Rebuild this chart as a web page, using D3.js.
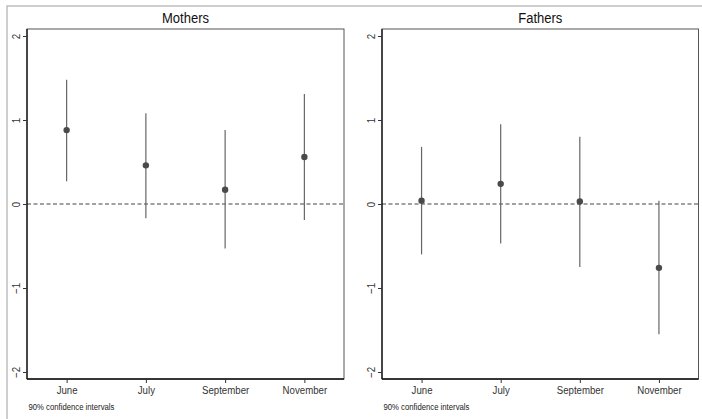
<!DOCTYPE html>
<html>
<head>
<meta charset="utf-8">
<script src="https://cdn.jsdelivr.net/npm/d3@7"></script>
<style>
  html, body { margin: 0; padding: 0; background: #fff; }
  svg text { font-family: "Liberation Sans", Arial, sans-serif; fill: #222; }
</style>
</head>
<body>
<svg id="chart" width="702" height="419"></svg>
<script>
const months = ["June", "July", "September", "November"];
const yTicks = [-2, -1, 0, 1, 2];
const footnote = "90% confidence intervals";

const panelTitles = ["Mothers", "Fathers"];
const mothersEst = [0.88, 0.46, 0.17, 0.56];
const mothersLow = [0.27, -0.17, -0.53, -0.19];
const mothersHigh = [1.48, 1.08, 0.88, 1.31];
const fathersEst = [0.04, 0.24, 0.03, -0.76];
const fathersLow = [-0.60, -0.47, -0.75, -1.55];
const fathersHigh = [0.68, 0.95, 0.80, 0.04];

const panels = [
  { title: panelTitles[0], est: mothersEst, low: mothersLow, high: mothersHigh, x0: 27, x1: 344 },
  { title: panelTitles[1], est: fathersEst, low: fathersLow, high: fathersHigh, x0: 382, x1: 698.5 }
];

const svg = d3.select("#chart");
const plotTop = 29, plotBottom = 379;
const squeeze = 0.84;

// outer graph frame (cropped)
svg.append("rect").attr("x", 7).attr("y", 6).attr("width", 760).attr("height", 500)
  .attr("fill", "none").attr("stroke", "#b4b4b4").attr("stroke-width", 1.3);

const y = d3.scaleLinear().domain([-2, 2]).range([372, 36]);

panels.forEach(p => {
  const g = svg.append("g");
  const x = d3.scalePoint().domain(months).range([p.x0, p.x1]).padding(0.5);

  // plot region outline
  g.append("rect").attr("x", p.x0).attr("y", plotTop).attr("width", p.x1 - p.x0).attr("height", plotBottom - plotTop)
    .attr("fill", "none").attr("stroke", "#555").attr("stroke-width", 1);

  // zero line
  g.append("line").attr("x1", p.x0).attr("x2", p.x1).attr("y1", y(0)).attr("y2", y(0))
    .attr("stroke", "#444").attr("stroke-width", 1).attr("stroke-dasharray", "4,2.5");

  // y axis
  const ya = g.append("g").attr("transform", `translate(${p.x0},0)`)
    .call(d3.axisLeft(y).tickValues(yTicks).tickSize(4).tickSizeOuter(0).tickFormat(d3.format("d")));
  ya.select(".domain").attr("d", `M0,${plotTop}V${plotBottom}`).attr("stroke", "#111").attr("stroke-width", 1.3);
  ya.selectAll(".tick line").attr("stroke", "#333");
  ya.selectAll(".tick text")
    .attr("x", 0).attr("y", 0).attr("dy", "0.35em")
    .attr("transform", `translate(-11,0) rotate(-90) scale(${squeeze},1)`)
    .attr("text-anchor", "middle")
    .style("font-size", "11.5px").style("fill", "#333");

  // x axis
  const xa = g.append("g").attr("transform", `translate(0,${plotBottom})`)
    .call(d3.axisBottom(x).tickSize(4).tickSizeOuter(0));
  xa.select(".domain").attr("d", `M${p.x0},0H${p.x1}`).attr("stroke", "#111").attr("stroke-width", 1.5);
  xa.selectAll(".tick line").attr("stroke", "#333");
  xa.selectAll(".tick text").attr("y", 7).attr("dy", "0.71em")
    .attr("transform", `scale(${squeeze},1)`)
    .style("font-size", "11.5px").style("fill", "#333");

  // CI lines
  g.selectAll(".ci").data(months).enter().append("line")
    .attr("x1", d => x(d)).attr("x2", d => x(d))
    .attr("y1", (d, i) => y(p.low[i])).attr("y2", (d, i) => y(p.high[i]))
    .attr("stroke", "#666").attr("stroke-width", 1.2);

  // point estimates
  g.selectAll(".pt").data(months).enter().append("circle")
    .attr("cx", d => x(d)).attr("cy", (d, i) => y(p.est[i])).attr("r", 3.2)
    .attr("fill", "#4a4a4a");

  // title
  g.append("text")
    .attr("transform", `translate(${(p.x0 + p.x1) / 2},23) scale(${squeeze},1)`)
    .attr("text-anchor", "middle").style("font-size", "15.5px").style("fill", "#111")
    .text(p.title);

  // footnote
  g.append("text")
    .attr("transform", `translate(${p.x0 + 1.5},410) scale(0.86,1)`)
    .style("font-size", "9px").style("fill", "#222").text(footnote);
});
</script>
</body>
</html>
